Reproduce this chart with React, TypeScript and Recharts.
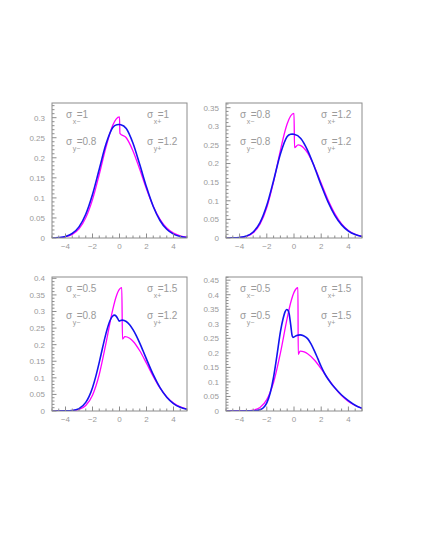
import React from 'react';
import { LineChart, Line, XAxis, YAxis } from 'recharts';

const MAGENTA = '#ff00ff';
const BLUE = '#1414f0';
const GREY = '#8c8c8c';
const TEXT = '#9a9a9a';
const FONT = '"Liberation Sans", Arial, Helvetica, sans-serif';

// sigma values printed in each panel (panels 1..4)
const sigXminus = ['1', '0.8', '0.5', '0.5'];
const sigXplus = ['1', '1.2', '1.5', '1.5'];
const sigYminus = ['0.8', '0.8', '0.8', '0.5'];
const sigYplus = ['1.2', '1.2', '1.2', '1.5'];

// panel 1
const p1MagX = [-5, -4.5, -4, -3.5, -3, -2.5, -2, -1.5, -1, -0.5, -0.25, 0, 0.03, 0.5, 1, 1.5, 2, 2.5, 3, 3.5, 4, 4.5, 5];
const p1MagY = [0.0002, 0.0009, 0.0031, 0.009, 0.0228, 0.0503, 0.0958, 0.1584, 0.2267, 0.2811, 0.2966, 0.302, 0.261, 0.25, 0.2172, 0.1711, 0.1223, 0.0793, 0.0466, 0.0248, 0.012, 0.0053, 0.0021];
const p1BluX = [-5, -4.5, -4, -3.5, -3, -2.5, -2, -1.5, -1, -0.5, -0.2, -0.05, 0.1, 0.5, 1, 1.5, 2, 2.5, 3, 3.5, 4, 4.5, 5];
const p1BluY = [0.0003, 0.0012, 0.0039, 0.0113, 0.0278, 0.0592, 0.1085, 0.1716, 0.2342, 0.2756, 0.2825, 0.283, 0.2825, 0.2731, 0.2364, 0.1831, 0.1269, 0.0787, 0.0437, 0.0217, 0.0096, 0.0038, 0.0014];

// panel 2
const p2MagX = [-5, -4.5, -4, -3.5, -3, -2.5, -2, -1.5, -1, -0.75, -0.5, -0.25, 0, 0.04, 0.3, 0.5, 1, 1.5, 2, 2.5, 3, 3.5, 4, 4.5, 5];
const p2MagY = [0.0001, 0.0003, 0.0012, 0.0044, 0.014, 0.0369, 0.0816, 0.1514, 0.2353, 0.2747, 0.3067, 0.3277, 0.335, 0.243, 0.25, 0.2482, 0.2285, 0.1919, 0.147, 0.1028, 0.0656, 0.0381, 0.0202, 0.0098, 0.0043];
const p2BluX = [-5, -4.5, -4, -3.5, -3, -2.5, -2, -1.5, -1, -0.5, -0.25, -0.12, 0, 0.5, 1, 1.5, 2, 2.5, 3, 3.5, 4, 4.5, 5];
const p2BluY = [0.0001, 0.0003, 0.0014, 0.0051, 0.016, 0.0412, 0.0877, 0.1545, 0.2255, 0.2725, 0.2785, 0.279, 0.2785, 0.2675, 0.2356, 0.1908, 0.1419, 0.097, 0.061, 0.0352, 0.0187, 0.0091, 0.0041];

// panel 3
const p3MagX = [-5, -4, -3.5, -3, -2.5, -2, -1.5, -1, -0.5, -0.25, 0, 0.17, 0.22, 0.4, 0.75, 1, 1.5, 2, 2.5, 3, 3.5, 4, 4.5, 5];
const p3MagY = [0, 0.0002, 0.001, 0.0046, 0.0165, 0.0476, 0.1101, 0.2046, 0.3058, 0.3444, 0.3673, 0.372, 0.217, 0.224, 0.2193, 0.2105, 0.1817, 0.1439, 0.1045, 0.0695, 0.0425, 0.0238, 0.0122, 0.0058];
const p3BluX = [-5, -4, -3.5, -3, -2.5, -2.25, -2, -1.75, -1.5, -1.25, -1, -0.7, -0.5, -0.37, -0.25, -0.12, -0.03, 0.08, 0.2, 0.5, 0.75, 1, 1.25, 1.5, 1.75, 2, 2.5, 3, 3.5, 4, 4.5, 5];
const p3BluY = [0, 0.0003, 0.0016, 0.0073, 0.026, 0.0442, 0.0704, 0.1051, 0.1466, 0.1915, 0.234, 0.2728, 0.2864, 0.289, 0.286, 0.278, 0.271, 0.273, 0.274, 0.2698, 0.26, 0.2453, 0.2264, 0.2045, 0.1808, 0.1564, 0.1097, 0.0706, 0.0416, 0.0225, 0.0112, 0.0051];

// panel 4
const p4MagX = [-5, -4, -3.5, -3, -2.5, -2, -1.5, -1, -0.5, -0.25, 0, 0.29, 0.31, 0.45, 0.75, 1, 1.5, 2, 2.5, 3, 3.5, 4, 4.5, 5];
const p4MagY = [0, 0.0001, 0.0006, 0.0031, 0.0124, 0.0393, 0.0991, 0.1994, 0.3195, 0.3715, 0.4081, 0.424, 0.195, 0.206, 0.2033, 0.1971, 0.1753, 0.145, 0.1115, 0.0797, 0.0529, 0.0327, 0.0188, 0.01];
const p4BluX = [-5, -3, -2.5, -2.25, -2, -1.75, -1.5, -1.25, -1, -0.8, -0.65, -0.54, -0.45, -0.35, -0.28, -0.22, -0.15, -0.08, 0.05, 0.2, 0.45, 0.7, 1, 1.25, 1.5, 1.75, 2, 2.25, 2.5, 2.75, 3, 3.5, 4, 4.5, 5];
const p4BluY = [0, 0.0003, 0.004, 0.011, 0.028, 0.062, 0.117, 0.192, 0.272, 0.318, 0.342, 0.349, 0.347, 0.333, 0.31, 0.288, 0.262, 0.253, 0.256, 0.26, 0.262, 0.259, 0.249, 0.231, 0.207, 0.18, 0.153, 0.129, 0.11, 0.094, 0.08, 0.055, 0.036, 0.02, 0.009];

const xTicks = [-5, -4.5, -4, -3.5, -3, -2.5, -2, -1.5, -1, -0.5, 0, 0.5, 1, 1.5, 2, 2.5, 3, 3.5, 4, 4.5, 5];

const zip = (xs: number[], ys: number[]) => xs.map((x, i) => ({ x, y: ys[i] }));

const YW = 40; // y axis width
const MT = 5;
const MR = 5;
const XH = 20;

// ticks drawn inward from the frame, like ROOT does
const XTick = ({ x, payload, axisY }: any) => {
  const v = payload.value;
  const major = Math.abs(v) % 2 === 0;
  const label = v < 0 ? '\u2212' + Math.abs(v) : String(v);
  return (
    <g>
      <line x1={x} x2={x} y1={axisY} y2={axisY - (major ? 4.5 : 2.5)} stroke={GREY} strokeWidth={1} />
      {major && Math.abs(v) < 5 && (
        <text x={x} y={axisY + 11} textAnchor="middle" fontSize={8} fill={TEXT} fontFamily={FONT}>
          {label}
        </text>
      )}
    </g>
  );
};

const YTick = ({ y, payload, axisX }: any) => {
  const v = payload.value;
  const major = Math.round(v * 100) % 5 === 0;
  return (
    <g>
      <line x1={axisX} x2={axisX + (major ? 4.5 : 2.5)} y1={y} y2={y} stroke={GREY} strokeWidth={1} />
      {major && (
        <text x={axisX - 7} y={y + 2.9} textAnchor="end" fontSize={8} fill={TEXT} fontFamily={FONT}>
          {String(v)}
        </text>
      )}
    </g>
  );
};

const Sigma = ({ x, y, sub, val }: { x: number; y: number; sub: string; val: string }) => (
  <g fill={TEXT} fontFamily={FONT}>
    <text x={x} y={y} fontSize={10}>σ</text>
    <text x={x + 6.7} y={y + 6.7} fontSize={7}>{sub}</text>
    <text x={x + 10.7} y={y} fontSize={10}>{'=' + val}</text>
  </g>
);

interface PanelProps {
  left: number;
  top: number;
  w: number;
  h: number;
  yMax: number;
  mag: { x: number; y: number }[];
  blue: { x: number; y: number }[];
  idx: number;
}

const Panel = ({ left, top, w, h, yMax, mag, blue, idx }: PanelProps) => {
  const cw = YW + w + MR;
  const ch = MT + h + XH;
  const n = Math.floor(yMax * 100 + 1e-6);
  const yTicks = Array.from({ length: n + 1 }, (_, i) => +(i * 0.01).toFixed(2));
  return (
    <div style={{ position: 'absolute', left: left - YW, top: top - MT, width: cw, height: ch }}>
      <LineChart width={cw} height={ch} margin={{ top: MT, right: MR, bottom: 0, left: 0 }}>
        <XAxis
          dataKey="x"
          type="number"
          domain={[-5, 5]}
          ticks={xTicks}
          interval={0}
          tickSize={0}
          tickMargin={0}
          tickLine={false}
          axisLine={false}
          tick={(p: any) => <XTick {...p} axisY={MT + h} />}
          height={XH}
          allowDataOverflow
        />
        <YAxis
          type="number"
          domain={[0, yMax]}
          ticks={yTicks}
          interval={0}
          tickSize={0}
          tickMargin={0}
          tickLine={false}
          axisLine={false}
          tick={(p: any) => <YTick {...p} axisX={YW} />}
          width={YW}
          allowDataOverflow
        />
        <Line data={mag} dataKey="y" type="monotone" stroke={MAGENTA} strokeWidth={1.3} dot={false} isAnimationActive={false} />
        <Line data={blue} dataKey="y" type="monotone" stroke={BLUE} strokeWidth={1.6} dot={false} isAnimationActive={false} />
      </LineChart>
      <svg width={cw} height={ch} style={{ position: 'absolute', left: 0, top: 0, pointerEvents: 'none' }}>
        <rect x={YW} y={MT} width={w} height={h} fill="none" stroke={GREY} strokeWidth={1} />
        <Sigma x={YW + 14} y={MT + 14.5} sub={'x\u2212'} val={sigXminus[idx]} />
        <Sigma x={YW + 95} y={MT + 14.5} sub="x+" val={sigXplus[idx]} />
        <Sigma x={YW + 14} y={MT + 41.5} sub={'y\u2212'} val={sigYminus[idx]} />
        <Sigma x={YW + 95} y={MT + 41.5} sub="y+" val={sigYplus[idx]} />
      </svg>
    </div>
  );
};

export default function App() {
  return (
    <div style={{ position: 'absolute', left: 0, top: 0, width: 425, height: 550, background: '#fff' }}>
      <Panel left={52} top={103} w={135} h={135} yMax={0.3366} mag={zip(p1MagX, p1MagY)} blue={zip(p1BluX, p1BluY)} idx={0} />
      <Panel left={226} top={103} w={136} h={135} yMax={0.3626} mag={zip(p2MagX, p2MagY)} blue={zip(p2BluX, p2BluY)} idx={1} />
      <Panel left={52} top={277} w={135} h={134} yMax={0.404} mag={zip(p3MagX, p3MagY)} blue={zip(p3BluX, p3BluY)} idx={2} />
      <Panel left={226} top={277} w={136} h={134} yMax={0.461} mag={zip(p4MagX, p4MagY)} blue={zip(p4BluX, p4BluY)} idx={3} />
    </div>
  );
}
